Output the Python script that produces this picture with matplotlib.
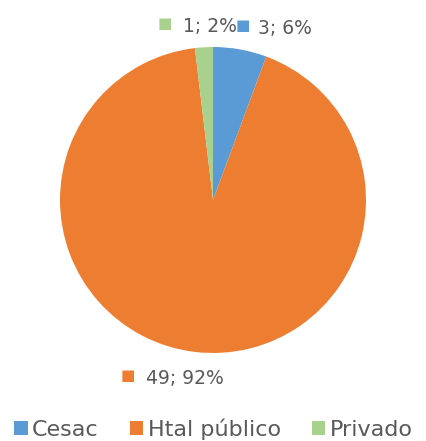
import matplotlib
matplotlib.use("Agg")
import matplotlib.pyplot as plt

categories = ["Cesac", "Htal público", "Privado"]
values = [3, 49, 1]
colors = ["#5B9BD5", "#ED7D31", "#A9D18E"]
text_color = "#595959"

W, H = 427, 441
fig = plt.figure(figsize=(W / 100, H / 100), dpi=100)
plt.rcParams['font.family'] = ['DejaVu Sans']

cx, cy, r = 213, 200, 153
ax = fig.add_axes([(cx - r) / W, (H - cy - r) / H, 2 * r / W, 2 * r / H])
wedges, _ = ax.pie(values, colors=colors, startangle=90, counterclock=False,
                   wedgeprops=dict(linewidth=0))
ax.set_xlim(-1, 1)
ax.set_ylim(-1, 1)
ax.set_aspect('equal')
ax.axis('off')

total = sum(values)
labels = [f"{v}; {round(100 * v / total)}%" for v in values]
# label positions in pixel coordinates (marker x, text x, y)
label_pos = [(243, 258, 28), (128, 146, 378), (165, 183, 27)]
for lab, col, (mx, tx, y) in zip(labels, colors, label_pos):
    fig.text(mx / W, 1 - (y - 3) / H, "■", color=col, fontsize=11,
             ha='center', va='center')
    fig.text(tx / W, 1 - y / H, lab, color=text_color, fontsize=13.5,
             ha='left', va='center')

leg = fig.legend(wedges, categories, loc='center', bbox_to_anchor=(0.5, 1 - 429 / H),
                 ncol=3, frameon=False, fontsize=16, handlelength=0.6, handleheight=0.6,
                 handletextpad=0.2, columnspacing=1.4, labelcolor=text_color,
                 borderaxespad=0, borderpad=0)

fig.savefig("out.png", dpi=100)
